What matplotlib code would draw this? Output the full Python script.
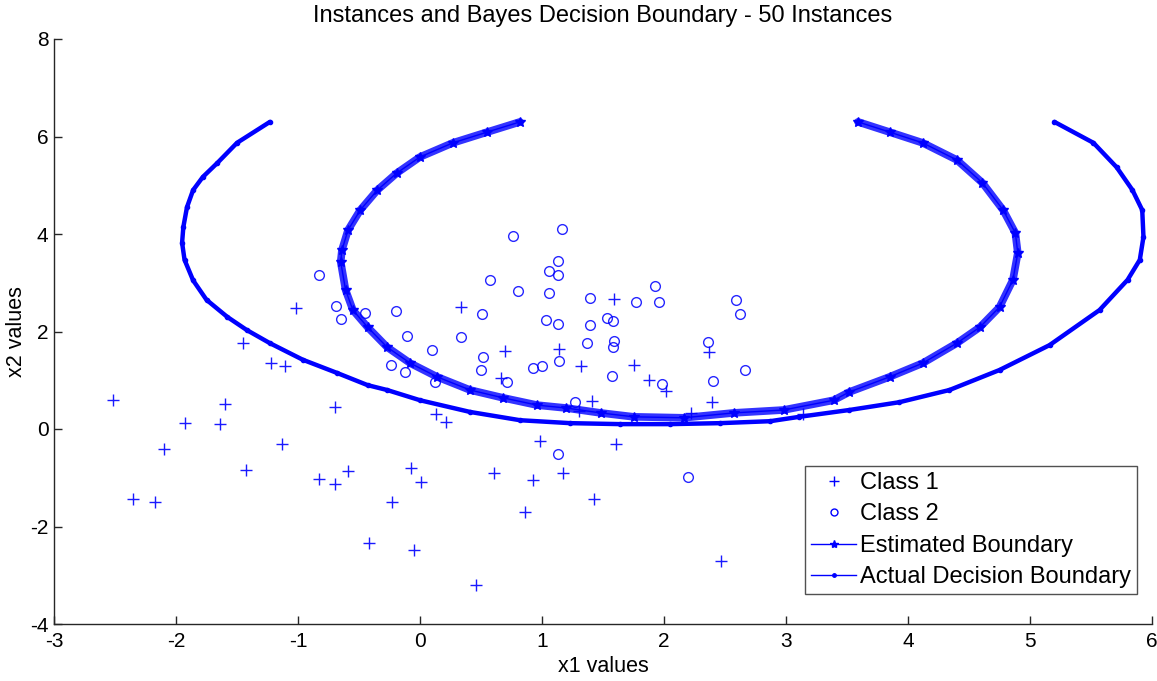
import matplotlib
matplotlib.use("Agg")
import matplotlib.pyplot as plt
from matplotlib.lines import Line2D

plt.rcParams['font.family'] = ['Liberation Sans', 'DejaVu Sans']
plt.rcParams['axes.unicode_minus'] = False

# ---- data ----
class1_x = [-1.02, -1.45, -1.22, -1.11, -2.52, -1.60, -0.70, -1.93, -1.64, -2.10,
            -1.13, -1.43, -0.83, -0.70, -0.59, -2.35, -2.17, -0.42, 0.13, 0.21,
            0.98, 1.61, -0.07, 0.01, 0.61, 0.93, 1.17, -0.23, 0.86, 1.43,
            -0.05, 0.46, 2.47, 1.41, 2.39, 2.22, 0.34, 1.59, 0.70, 1.14,
            1.32, 1.75, 0.66, 1.88, 2.02, 2.37, 3.14, 1.30]
class1_y = [2.48, 1.76, 1.35, 1.29, 0.59, 0.51, 0.45, 0.12, 0.10, -0.41,
            -0.31, -0.84, -1.03, -1.13, -0.86, -1.44, -1.50, -2.34, 0.31, 0.14,
            -0.25, -0.31, -0.80, -1.09, -0.90, -1.05, -0.90, -1.50, -1.70, -1.44,
            -2.48, -3.20, -2.71, 0.57, 0.55, 0.33, 2.50, 2.67, 1.60, 1.64,
            1.29, 1.31, 1.05, 1.01, 0.78, 1.58, 0.31, 0.37]

class2_x = [-0.83, -0.69, -0.65, -0.45, -0.20, -0.24, -0.12, -0.11, 0.10, 0.12,
            0.34, 0.50, 0.51, 0.52, 0.57, 0.71, 0.76, 0.80, 0.93, 1.00,
            1.03, 1.06, 1.06, 1.13, 1.13, 1.13, 1.14, 1.16, 1.27, 1.13,
            1.37, 1.39, 1.39, 1.53, 1.58, 1.59, 1.58, 1.57, 1.77, 1.93,
            1.96, 1.98, 2.20, 2.36, 2.40, 2.59, 2.62, 2.66]
class2_y = [3.16, 2.52, 2.26, 2.38, 2.42, 1.31, 1.17, 1.91, 1.62, 0.96,
            1.89, 1.21, 2.36, 1.48, 3.06, 0.96, 3.96, 2.83, 1.25, 1.29,
            2.24, 3.24, 2.79, 3.45, 3.16, 2.15, 1.39, 4.10, 0.55, -0.51,
            1.76, 2.13, 2.69, 2.28, 2.22, 1.81, 1.68, 1.09, 2.61, 2.93,
            2.61, 0.92, -0.98, 1.78, 0.98, 2.65, 2.36, 1.21]

est_x = [0.82, 0.55, 0.27, 0.00, -0.19, -0.35, -0.49, -0.59, -0.64, -0.65,
         -0.61, -0.55, -0.43, -0.27, -0.08, 0.14, 0.41, 0.68, 0.96, 1.20,
         1.48, 1.75, 2.16, 2.57, 2.98, 3.39, 3.52, 3.85, 4.12, 4.40,
         4.59, 4.75, 4.86, 4.90, 4.88, 4.78, 4.61, 4.40, 4.12, 3.85, 3.59]
est_y = [6.30, 6.09, 5.87, 5.58, 5.25, 4.90, 4.49, 4.08, 3.67, 3.43,
         2.85, 2.44, 2.09, 1.68, 1.35, 1.07, 0.80, 0.64, 0.49, 0.43,
         0.33, 0.25, 0.23, 0.33, 0.39, 0.59, 0.76, 1.07, 1.35, 1.76,
         2.09, 2.50, 3.06, 3.61, 4.02, 4.49, 5.05, 5.52, 5.87, 6.09, 6.30]

act_x = [-1.23, -1.50, -1.66, -1.78, -1.86, -1.91, -1.94, -1.95, -1.93, -1.86,
         -1.75, -1.58, -1.42, -1.23, -0.96, -0.68, -0.43, -0.27, 0.00, 0.41,
         0.82, 1.23, 1.64, 2.05, 2.46, 2.87, 3.11, 3.52, 3.93, 4.34,
         4.75, 5.16, 5.57, 5.80, 5.90, 5.93, 5.92, 5.84, 5.71, 5.52, 5.20]
act_y = [6.30, 5.87, 5.46, 5.17, 4.90, 4.55, 4.14, 3.82, 3.47, 3.05,
         2.65, 2.30, 2.03, 1.76, 1.42, 1.15, 0.90, 0.80, 0.59, 0.35,
         0.18, 0.12, 0.10, 0.10, 0.12, 0.16, 0.25, 0.39, 0.55, 0.80,
         1.21, 1.72, 2.44, 3.06, 3.47, 3.94, 4.49, 4.90, 5.37, 5.87, 6.30]

labels = ['Class 1', 'Class 2', 'Estimated Boundary', 'Actual Decision Boundary']
title = 'Instances and Bayes Decision Boundary - 50 Instances'
xticks = [-3, -2, -1, 0, 1, 2, 3, 4, 5, 6]
yticks = [-4, -2, 0, 2, 4, 6, 8]

# ---- figure ----
W, H = 1157, 681
fig = plt.figure(figsize=(W / 100, H / 100), dpi=100)
ax = fig.add_axes([54 / W, (H - 624) / H, 1098 / W, 585 / H])

blue = '#0000ff'
# thick bands imitating the dense marker trails
ax.plot(est_x, est_y, '-', color=blue, lw=5.5, solid_capstyle='round', alpha=0.8)
ax.plot(act_x, act_y, '-', color=blue, lw=3.2, solid_capstyle='round')
ax.plot(est_x, est_y, '*-', color=blue, lw=1, ms=7)
ax.plot(act_x, act_y, '.-', color=blue, lw=1, ms=6)

ax.plot(class1_x, class1_y, '+', color=blue, ms=9, mew=1.0, alpha=0.9)
ax.plot(class2_x, class2_y, 'o', color=blue, ms=7, mfc='none', mew=1.0, alpha=0.85)

ax.set_xlim(-3, 6)
ax.set_ylim(-4, 8)
ax.set_xticks(xticks)
ax.set_yticks(yticks)
ax.tick_params(direction='in', length=6, width=1, labelsize=15, colors='#262626',
               labelcolor='black', pad=4)
ax.tick_params(axis='x', pad=6)
for s in ['top', 'right']:
    ax.spines[s].set_visible(False)
for s in ['left', 'bottom']:
    ax.spines[s].set_color('#262626')
    ax.spines[s].set_linewidth(1)

ax.set_title(title, fontsize=17, pad=12)
ax.set_xlabel('x1 values', fontsize=15.5, labelpad=3)
ax.set_ylabel('x2 values', fontsize=15.5, labelpad=2)

handles = [
    Line2D([], [], ls='none', marker='+', color=blue, ms=7, mew=1),
    Line2D([], [], ls='none', marker='o', color=blue, mfc='none', ms=5, mew=1),
    Line2D([], [], ls='-', marker='*', color=blue, lw=1, ms=6),
    Line2D([], [], ls='-', marker='.', color=blue, lw=1, ms=5),
]
leg = ax.legend(handles, labels, loc='lower right', bbox_to_anchor=(0.986, 0.051),
                borderaxespad=0, fontsize=17, frameon=True, fancybox=False,
                edgecolor='#262626', handlelength=1.9, handletextpad=0.15,
                labelspacing=0.4, borderpad=0.25)
leg.get_frame().set_linewidth(1)

fig.savefig('out.png', dpi=100, facecolor='white')
